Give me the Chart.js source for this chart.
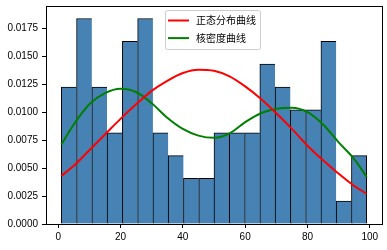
<!DOCTYPE html>
<html lang="zh">
<head>
<meta charset="UTF-8">
<title>直方图与密度曲线</title>
<script src="https://cdn.jsdelivr.net/npm/chart.js@4.4.1/dist/chart.umd.min.js"></script>
<style>
  body { margin: 0; background: #fff; }
</style>
</head>
<body>
<canvas id="myChart" width="387" height="250"></canvas>
<script>
// histogram bins (20 bins, 1..99)
const binEdges = [1, 5.9, 10.8, 15.7, 20.6, 25.5, 30.4, 35.3, 40.2, 45.1, 50,
                  54.9, 59.8, 64.7, 69.6, 74.5, 79.4, 84.3, 89.2, 94.1, 99];
const binDensity = [0.01224, 0.01837, 0.01224, 0.00816, 0.01633, 0.01837, 0.00816, 0.00612, 0.00408, 0.00408,
                    0.00816, 0.00816, 0.00816, 0.01429, 0.01224, 0.0102, 0.0102, 0.01633, 0.00204, 0.00612];

// curves
const curveX = [1, 5, 10, 15, 20, 25, 30, 35, 40, 45, 50, 55, 60, 65, 70, 75, 80, 85, 90, 95, 99];
const normalY = [0.0043, 0.0052, 0.0066, 0.0080, 0.0094, 0.0107, 0.0119, 0.0128, 0.0135, 0.0138, 0.0137,
                 0.0132, 0.0123, 0.0112, 0.0099, 0.0085, 0.0070, 0.0057, 0.0045, 0.0034, 0.0027];
const kdeY = [0.0071, 0.0089, 0.0107, 0.0117, 0.0121, 0.0118, 0.0108, 0.0095, 0.0085, 0.0079, 0.0077,
              0.0081, 0.0091, 0.0099, 0.0103, 0.0104, 0.0100, 0.0089, 0.0073, 0.0058, 0.0042];

const labelNormal = '正态分布曲线';
const labelKde = '核密度曲线';

const barData = binDensity.map((v, i) => ({ x: (binEdges[i] + binEdges[i + 1]) / 2, y: v }));
const normalData = curveX.map((x, i) => ({ x: x, y: normalY[i] }));
const kdeData = curveX.map((x, i) => ({ x: x, y: kdeY[i] }));
const lastBar = binDensity.length - 1;

// black frame round the plot area
const frame = {
    id: 'frame',
    afterDatasetsDraw(chart) {
        const a = chart.chartArea;
        const ctx = chart.ctx;
        ctx.save();
        ctx.strokeStyle = '#000';
        ctx.lineWidth = 1;
        ctx.strokeRect(Math.round(a.left) + 0.5, Math.round(a.top) + 0.5,
                       Math.round(a.right - a.left), Math.round(a.bottom - a.top));
        ctx.restore();
    }
};

// legend box in upper middle, like matplotlib's
const innerLegend = {
    id: 'innerLegend',
    afterDraw(chart) {
        const ctx = chart.ctx;
        ctx.save();
        ctx.fillStyle = 'rgba(255,255,255,0.8)';
        ctx.strokeStyle = '#cccccc';
        ctx.lineWidth = 1;
        ctx.beginPath();
        ctx.roundRect(165.5, 10.5, 95, 39, 2);
        ctx.fill();
        ctx.stroke();
        ctx.font = '10px "Noto Sans CJK SC"';
        ctx.textBaseline = 'middle';
        const lines = chart.data.datasets.filter(d => d.type === 'line');
        lines.forEach((d, i) => {
            const y = 20.5 + i * 17.6;
            ctx.strokeStyle = d.borderColor;
            ctx.lineWidth = 2;
            ctx.beginPath();
            ctx.moveTo(168, y);
            ctx.lineTo(189, y);
            ctx.stroke();
            ctx.fillStyle = '#000';
            ctx.fillText(d.label, 196, y);
        });
        ctx.restore();
    }
};

const ctx1 = document.getElementById('myChart').getContext('2d');
const myChart = new Chart(ctx1, {
    data: {
        datasets: [
            {
                type: 'line',
                label: labelNormal,
                data: normalData,
                borderColor: '#ff0000',
                borderWidth: 2,
                pointRadius: 0,
                cubicInterpolationMode: 'monotone',
                order: 1
            },
            {
                type: 'line',
                label: labelKde,
                data: kdeData,
                borderColor: '#008000',
                borderWidth: 2,
                pointRadius: 0,
                cubicInterpolationMode: 'monotone',
                order: 1
            },
            {
                type: 'bar',
                label: 'hist',
                data: barData,
                backgroundColor: '#4682b4',
                borderColor: '#000',
                borderSkipped: false,
                borderWidth: (c) => ({ top: 1, left: 1, bottom: 0, right: c.dataIndex === lastBar ? 1 : 0 }),
                barPercentage: 1,
                categoryPercentage: 1,
                order: 2
            }
        ]
    },
    plugins: [frame, innerLegend],
    options: {
        responsive: false,
        animation: false,
        layout: { padding: { top: 6, right: 5, left: 0, bottom: 0 } },
        plugins: {
            legend: { display: false },
            tooltip: { enabled: false }
        },
        scales: {
            x: {
                type: 'linear',
                offset: false,
                min: -3.9,
                max: 103.9,
                border: { display: false },
                grid: { offset: false, drawOnChartArea: false, drawTicks: true, tickLength: 4, color: '#000' },
                ticks: {
                    stepSize: 20,
                    includeBounds: false,
                    padding: 3,
                    color: '#000',
                    maxRotation: 0,
                    font: { family: '"Liberation Sans"', size: 10 }
                },
                afterFit(scale) {
                    scale.height = 26;
                    scale.paddingLeft = 0;
                    scale.paddingRight = 0;
                }
            },
            y: {
                min: 0,
                max: 0.01949,
                border: { display: false },
                grid: { offset: false, drawOnChartArea: false, drawTicks: true, tickLength: 4, color: '#000' },
                ticks: {
                    stepSize: 0.0025,
                    includeBounds: false,
                    padding: 4,
                    color: '#000',
                    font: { family: '"Liberation Sans"', size: 10 },
                    callback: (v) => v.toFixed(4)
                },
                afterFit(scale) {
                    scale.width = 46;
                    scale.paddingTop = 0;
                    scale.paddingBottom = 0;
                }
            }
        }
    }
});
</script>
</body>
</html>
